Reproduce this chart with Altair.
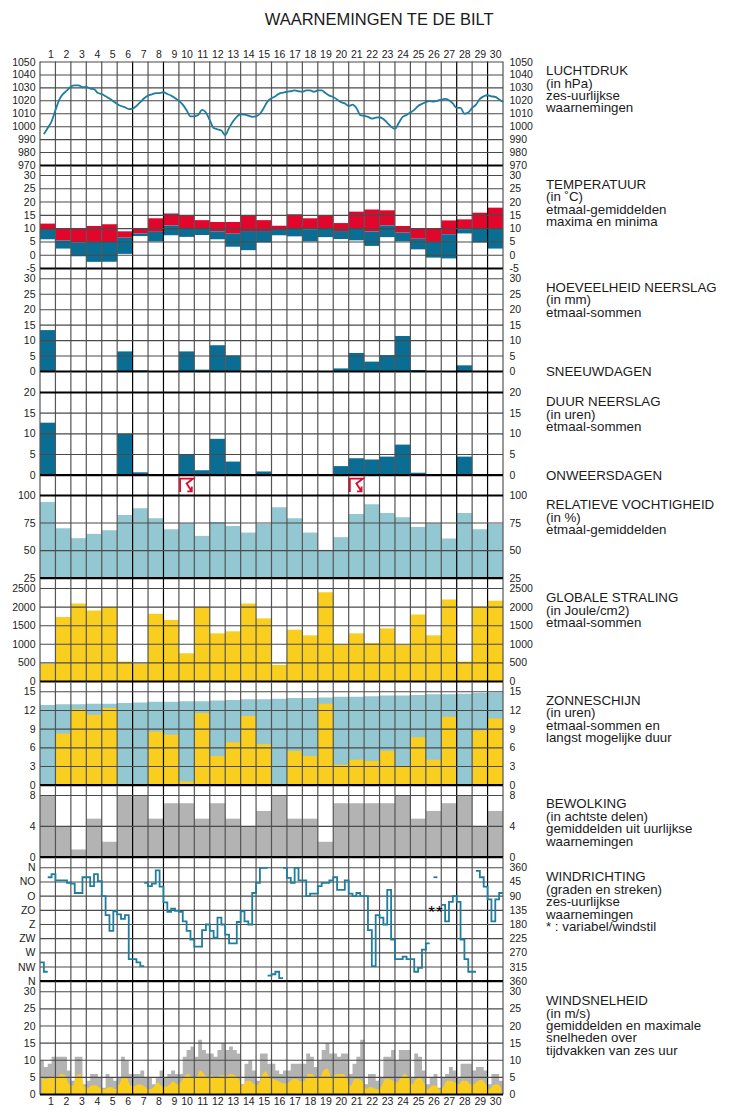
import altair as alt
import pandas as pd

FONT = "Liberation Sans"
DAYS = list(range(1, 31))

# ---------- data ----------
pressure = [994.2,999,1004,1012.7, 1021,1025.3,1028,1031, 1032,1032,1030.5,1030.7,
            1029.4,1029,1026,1025.3, 1023.5,1021.7,1019.7,1017.6, 1016,1015,1013.6,1014,
            1016,1019,1022,1024, 1025,1026,1026,1026.6, 1025.3,1024,1022,1020,
            1017,1012.7,1008,1008, 1009,1013,1011,1005, 999,998,997,993.4,
            999,1004,1007.6,1009.6, 1009.4,1008.6,1007.6,1008, 1010,1014.5,1019.7,1022,
            1023.5,1025.6,1026.3,1027, 1027.4,1028,1027.4,1027, 1028,1028,1027,1028,
            1028,1026,1024,1023, 1021,1019,1018,1016, 1017,1014.5,1009,1008.4,
            1007.6,1006.3,1007,1007.3, 1006,1003,1000,998.3, 1003,1007.6,1009,1011,
            1013,1016,1017.6,1019, 1019.7,1019.4,1020,1021, 1021.5,1020.5,1018,1014.5,
            1014.5,1010,1011,1014.5, 1017,1021.5,1023.5,1024.3, 1023.5,1023,1021,1019]
t_max = [11.9,10.1,10.1,11,11.7,9,10.2,13.9,15.7,15,13.2,12.5,12.5,15,13.2,
         11.1,15.4,13.9,15,12.1,16.4,17.2,16.9,11,10.2,10.1,13.1,13.5,16,17.9]
t_mean = [9.5,5.6,4.8,5,5,6.6,8.2,8.8,11.2,10.2,10.2,9,8.1,9.1,9.1,
          9.5,10,9.8,10.2,9.1,10.2,8.9,11.2,8.5,6.2,5,7.9,9.8,10,10]
t_min = [6,2.5,-0.4,-2.5,-2.5,0.5,7.2,5.2,7.5,6.9,7.6,6,3.2,1.9,4.8,
         7.5,7.1,5.2,6.8,6.1,5.6,3.5,6.8,5.2,2.2,-0.9,-1.2,8.2,4.8,2.5]
rain_mm = [13.4,0,0,0,0,6.5,0.4,0,0,6.5,0.6,8.5,5.2,0,0.3,
           0,0,0,0,1,6,3.2,5.3,11.5,0.5,0,0,2,0,0]
rain_h = [12.7,0,0,0,0,10,0.7,0,0,5,1.2,8.8,3.3,0,0.9,
          0,0,0,0,2.2,4.1,3.8,4.5,7.4,0.6,0,0,4.5,0,0]
thunder_days = [10, 21]
humidity = [94,70.3,61.3,65.2,68.5,82.4,88.4,79.4,69.4,74.8,63.4,76,72.4,66.4,74.2,
            89.4,79.4,66.4,50.7,62.2,83.3,92,84.2,80.3,71.5,74.8,61,84.2,69.4,74.2]
radiation = [473,1732,2098,1910,2000,536,482,1820,1650,759,2009,1295,1348,2098,1696,
             446,1393,1241,2402,1000,1295,1036,1429,982,1804,1241,2205,536,2018,2170]
sun_max = [12.9,13,13,13.1,13.1,13.2,13.3,13.4,13.4,13.5,13.5,13.6,13.7,13.8,13.8,
           13.9,14,14,14.1,14.2,14.2,14.3,14.4,14.4,14.5,14.6,14.6,14.7,14.8,14.9]
sun_h = [0,8.3,12.2,11.3,12.4,0,0,8.6,8.1,0.6,11.6,4.7,6.9,11.1,6.6,
         0,5.5,4.7,13.1,3.3,4.1,3.9,5.5,3.1,7.7,4.1,11,0,8.8,10.7]
clouds = [8,4,1,5,2,8,8,5,7,7,5,7,5,4,6,8,5,5,2,7,7,7,7,8,5,6,7,8,4,6]
wind_dir = [300,330,30,20, 40,40,40,48, 50,80,80,30, 30,58,20,42, 90,150,200,138,
            148,162,150,290, 290,300,312,48, 58,50,8,60, 110,140,130,137, 140,170,200,228,
            250,250,198,180, 200,222,158,180, 212,240,240,172, 138,170,180,80, 48,0,0,342,
            338,330,350,0, 32,48,0,40, 40,90,82,82, 58,48,48,40, 30,70,70,40,
            82,90,80,90, 90,198,312,150, 158,180,70,228, 290,290,282,290, 290,330,318,260,
            240,None,30,None, 118,170,108,90, 108,228,290,330, 330,10,30,60, 100,170,100,80]
calm_cells = [101, 103]
wind_gust = [10,8,9,11, 11,11,11,7, 4,11,11,3, 4,6,6,5, 2,6,5,4, 5,11,10,6, 6,6,7,5,
             5,3,5,7, 5,6,7,6, 6,11,13,14, 11,16,13,12, 12,11,13,15, 13,14,13,12,
             3,9,10,7, 4,12,12,9, 9,7,6,7, 7,9,9,9, 9,12,11,8, 10,13,15,12,
             12,11,12,12, 6,9,11,16, 3,6,6,4, 5,11,11,13, 10,13,13,13, 5,12,11,7,
             3,5,6,2, 5,6,8,7, 5,9,9,9, 7,8,8,7, 3,6,6,4]
wind_mean = [5,4.5,5,5.3, 5.3,6,5.6,3, 2.5,5.6,6,2.3, 2,2.7,2.7,2, 1.5,2,2.2,1.5,
             3,5,4.8,2.5, 2.5,3,2.8,2, 1.5,2.2,3.5,2.5, 2.3,2.8,3.8,3, 3.5,5.5,6,5,
             5,7,6,5, 5.7,4.8,5.5,5.6, 5.5,6,5.6,4.5, 2.5,4,4,3, 2.8,5.5,6.8,5,
             4.5,4,3.5,3.2, 3.5,4.5,4.5,3.8, 4,6,6,5, 5,7,7.5,5, 5.8,6,6,5,
             2.5,4.5,4.5,4, 1.7,2.2,2,1.5, 2.5,4.5,4.5,4, 3.5,5,6,5, 3,4.5,5,3.5,
             1.5,2.5,2.7,1.5, 2.2,4,4,3.5, 3,4,4,3, 3,4,4.3,3, 1.5,2.8,3,2]

dir_left = ["N","NO","O","ZO","Z","ZW","W","NW","N"]
notes = [
    (71, "LUCHTDRUK"), (84, "(in hPa)"), (96.7, "zes-uurlijkse"), (108.7, "waarnemingen"),
    (185, "TEMPERATUUR"), (197.7, "(in ˚C)"), (210.7, "etmaal-gemiddelden"), (222.7, "maxima en minima"),
    (288, "HOEVEELHEID NEERSLAG"), (300.7, "(in mm)"), (313.7, "etmaal-sommen"),
    (372.5, "SNEEUWDAGEN"),
    (402, "DUUR NEERSLAG"), (415, "(in uren)"), (427, "etmaal-sommen"),
    (476, "ONWEERSDAGEN"),
    (505, "RELATIEVE VOCHTIGHEID"), (518, "(in %)"), (530, "etmaal-gemiddelden"),
    (598, "GLOBALE STRALING"), (611, "(in Joule/cm2)"), (623, "etmaal-sommen"),
    (701, "ZONNESCHIJN"), (713, "(in uren)"), (726, "etmaal-sommen en"), (738, "langst mogelijke duur"),
    (804, "BEWOLKING"), (817, "(in achtste delen)"), (829, "gemiddelden uit uurlijkse"), (842, "waarnemingen"),
    (877, "WINDRICHTING"), (890, "(graden en streken)"), (902, "zes-uurlijkse"), (915, "waarnemingen"), (927, "* : variabel/windstil"),
    (1001, "WINDSNELHEID"), (1014, "(in m/s)"), (1026, "gemiddelden en maximale"), (1038, "snelheden over"), (1051, "tijdvakken van zes uur"),
]

# ---------- layout ----------
W = 463
BLUE, RED, LIGHT, YELLOW, GREY = "#0a6d94", "#e2062c", "#93c7d1", "#f9ce1e", "#b3b3b3"
LINE = "#1f7d9e"
GRID = "#4a4a4a"
xs = alt.Scale(domain=[0, 30], nice=False, zero=False)
X = lambda f: alt.X(f, type="quantitative", scale=xs, axis=None, title=None)
X2 = lambda f: alt.X2(field=f)

# name: (page top, page bottom, (value, page y), (value, page y), ticks, thick lines)
# panel edges are whole pixels because Vega rounds concatenated panel heights up
P = {
    "press": (62, 166, (970, 166), (1050, 62.5), list(range(970, 1051, 10)), [970]),
    "temp": (166, 269, (-5, 269), (30, 176), list(range(-5, 31, 5)), [-5]),
    "rain": (269, 372, (0, 372), (30, 279.3), list(range(0, 31, 5)), [0]),
    "dur": (372, 476, (0, 475.7), (20, 393), [0, 5, 10, 15, 20], [0, 20]),
    "hum": (476, 579, (25, 578.7), (100, 496), [25, 50, 75, 100], [25, 100]),
    "rad": (579, 682, (0, 682), (2500, 589), list(range(0, 2501, 500)), [0]),
    "sun": (682, 786, (0, 785.7), (15, 692.3), list(range(0, 16, 3)), [0]),
    "cloud": (786, 858, (0, 857.7), (8, 796), [0, 4, 8], [0]),
    "dir": (858, 982, (360, 981.7), (0, 868.3), list(range(0, 361, 45)), [360]),
    "speed": (982, 1095, (0, 1095), (30, 992.3), list(range(0, 31, 5)), [0]),
}


def val_at(name, py):
    _, _, (v0, p0), (v1, p1), _, _ = P[name]
    return v0 + (py - p0) * (v1 - v0) / (p1 - p0)


def yscale(name):
    top, bot = P[name][0], P[name][1]
    return alt.Scale(domain=[val_at(name, bot), val_at(name, top)], nice=False, zero=False)


edges = pd.DataFrame({
    "x": list(range(31)),
    "c": ["#000000" if i in (6, 8, 27, 29) else "#555555" for i in range(31)],
})


def vrules():
    return alt.Chart(edges).mark_rule(strokeWidth=1.2).encode(
        x=X("x"), color=alt.Color("c:N", scale=None))


def hrules(name, left_expr="'' + datum.value", right_expr="'' + datum.value"):
    ticks, thick = P[name][4], P[name][5]
    d = pd.DataFrame({"v": ticks,
                      "w": [2.2 if t in thick else 1.1 for t in ticks],
                      "c": ["#000000" if t in thick else GRID for t in ticks]})
    sc = yscale(name)
    common = dict(values=ticks, grid=False, ticks=False, domain=False, labelFont=FONT,
                  labelFontSize=10.5, labelColor="#222222", labelOverlap=False,
                  labelBound=False, labelFlush=False, title=None)
    left = alt.Chart(d).mark_rule().encode(
        x=alt.value(0), x2=alt.value(W),
        y=alt.Y("v:Q", scale=sc, title=None,
                axis=alt.Axis(orient="left", labelExpr=left_expr, labelPadding=5, **common)),
        color=alt.Color("c:N", scale=None),
        strokeWidth=alt.StrokeWidth("w:Q", scale=None))
    right = alt.Chart(d).mark_rule(opacity=0).encode(
        x=alt.value(0), x2=alt.value(W),
        y=alt.Y("v:Q", scale=sc, title=None,
                axis=alt.Axis(orient="right", labelExpr=right_expr, labelPadding=6, **common)))
    return [left, right]


def Yv(name, f):
    return alt.Y(f, type="quantitative", scale=yscale(name), title=None, axis=None)


def day_bars(name, values, color, base=None):
    low = [base] * 30 if not isinstance(base, list) else base
    d = pd.DataFrame({"x0": [i - 1 for i in DAYS], "x1": DAYS, "hi": values, "lo": low})
    return alt.Chart(d).mark_rect(color=color).encode(
        x=X("x0"), x2=X2("x1"), y=Yv(name, "hi"), y2=alt.Y2(field="lo"))


def panel(name, under=(), over=(), **kw):
    top, bot = P[name][0], P[name][1]
    return alt.layer(*under, vrules(), *hrules(name, **kw), *over).resolve_axis(
        y="independent").properties(width=W, height=bot - top)


# --- day numbers and ticks
def day_axis(name, orient, label_y):
    d = pd.DataFrame({"x": list(range(31))})
    tick = alt.Chart(d).mark_rule(opacity=0).encode(
        x=alt.X("x:Q", scale=xs, title=None,
                axis=alt.Axis(orient=orient, values=list(range(31)), labels=False, grid=False,
                              domain=False, tickSize=10, tickColor="#555555", tickWidth=1.2,
                              title=None)))
    lab = alt.Chart(pd.DataFrame({"x": DAYS, "t": [str(i) for i in DAYS], "y": [label_y] * 30})
                    ).mark_text(align="right", baseline="middle", dx=-1.5, font=FONT,
                                fontSize=10.5, color="#222222").encode(
        x=X("x"), y=Yv(name, "y"), text="t:N")
    return [tick, lab]


# --- panels
qx = [(i + 1) / 4 for i in range(120)]
press_line = alt.Chart(pd.DataFrame({"x": qx, "v": pressure})).mark_line(
    color=LINE, strokeWidth=1.8, interpolate="monotone").encode(x=X("x"), y=Yv("press", "v"))
note_df = pd.DataFrame({
    "x": [506 / W * 30] * len(notes),
    "y": [val_at("press", n[0]) for n in notes],
    "t": [n[1] for n in notes],
})
note_text = alt.Chart(note_df).mark_text(align="left", baseline="middle", font=FONT,
                                         fontSize=13.3, color="#1a1a1a").encode(
    x=X("x"), y=Yv("press", "y"), text="t:N")
p1 = panel("press", over=[press_line, note_text] + day_axis("press", "top", val_at("press", 55.3)))

p2 = panel("temp", under=[day_bars("temp", t_max, RED, t_mean), day_bars("temp", t_mean, BLUE, t_min)])
p3 = panel("rain", under=[day_bars("rain", rain_mm, BLUE, 0)])
p4 = panel("dur", under=[day_bars("dur", rain_h, BLUE, 0)])

storm = alt.Chart(pd.DataFrame({"x": [d - 0.5 for d in thunder_days],
                                "y": [val_at("hum", 485.7)] * len(thunder_days)})).mark_point(
    shape="M-0.95,1 L-0.95,-0.95 L0.95,-0.95 L0,-0.25 L0.7,0.85 M0.75,0.2 L0.75,0.9 L0.1,0.9",
    size=190, filled=False, color=RED, strokeWidth=1.8, opacity=1).encode(
    x=X("x"), y=Yv("hum", "y"))
p5 = panel("hum", under=[day_bars("hum", humidity, LIGHT, 25)], over=[storm])
p6 = panel("rad", under=[day_bars("rad", radiation, YELLOW, 0)])
p7 = panel("sun", under=[day_bars("sun", sun_max, LIGHT, 0), day_bars("sun", sun_h, YELLOW, 0)])
p8 = panel("cloud", under=[day_bars("cloud", clouds, GREY, 0)])

# wind direction: one flat stretch per six hours, broken at gaps and across north
rows = []
seg = 0
prev = None
for i, v in enumerate(wind_dir):
    if v is None:
        prev = None
        seg += 1
        continue
    if prev is not None and abs(v - prev) > 180:
        seg += 1
    rows += [{"x": i / 4, "v": v, "s": seg}, {"x": (i + 1) / 4, "v": v, "s": seg}]
    prev = v
dir_line = alt.Chart(pd.DataFrame(rows)).mark_line(color=LINE, strokeWidth=1.8).encode(
    x=X("x"), y=Yv("dir", "v"), detail="s:N")
stars = alt.Chart(pd.DataFrame({"x": [(c + 0.5) / 4 for c in calm_cells], "v": [135] * len(calm_cells),
                                "t": ["*"] * len(calm_cells)})).mark_text(
    font=FONT, fontSize=17, color="#000000", dy=3, baseline="middle").encode(
    x=X("x"), y=Yv("dir", "v"), text="t:N")
p9 = panel("dir", over=[dir_line, stars],
           left_expr="%s[datum.value/45]" % str(dir_left),
           right_expr="datum.value == 0 ? '360' : '' + datum.value")


def stepped(values):
    xx, vv = [], []
    for i, v in enumerate(values):
        xx += [i / 4, (i + 1) / 4]
        vv += [v, v]
    return pd.DataFrame({"x": xx, "v": vv, "z": [0] * len(xx)})


gust = alt.Chart(stepped(wind_gust)).mark_area(color=GREY, opacity=1).encode(
    x=X("x"), y=Yv("speed", "v"), y2=alt.Y2(field="z"))
mean = alt.Chart(pd.DataFrame({"x": [(i + 0.5) / 4 for i in range(120)], "v": wind_mean,
                               "z": [0] * 120})).mark_area(
    color=YELLOW, opacity=1, interpolate="monotone").encode(
    x=X("x"), y=Yv("speed", "v"), y2=alt.Y2(field="z"))
p10 = panel("speed", under=[gust, mean], over=day_axis("speed", "bottom", val_at("speed", 1102.7)))

chart = alt.vconcat(p1, p2, p3, p4, p5, p6, p7, p8, p9, p10, spacing=0, bounds="flush").properties(
    title=alt.TitleParams("WAARNEMINGEN TE DE BILT", font=FONT, fontSize=16.5, fontWeight="normal",
                          color="#1a1a1a", anchor="middle", dx=15, offset=21.5),
    padding={"left": 3, "top": 3.5, "right": 0, "bottom": 0},
    background="white",
).configure_view(stroke=None)

chart.save("out.html", embed_options={"renderer": "svg", "actions": False})
